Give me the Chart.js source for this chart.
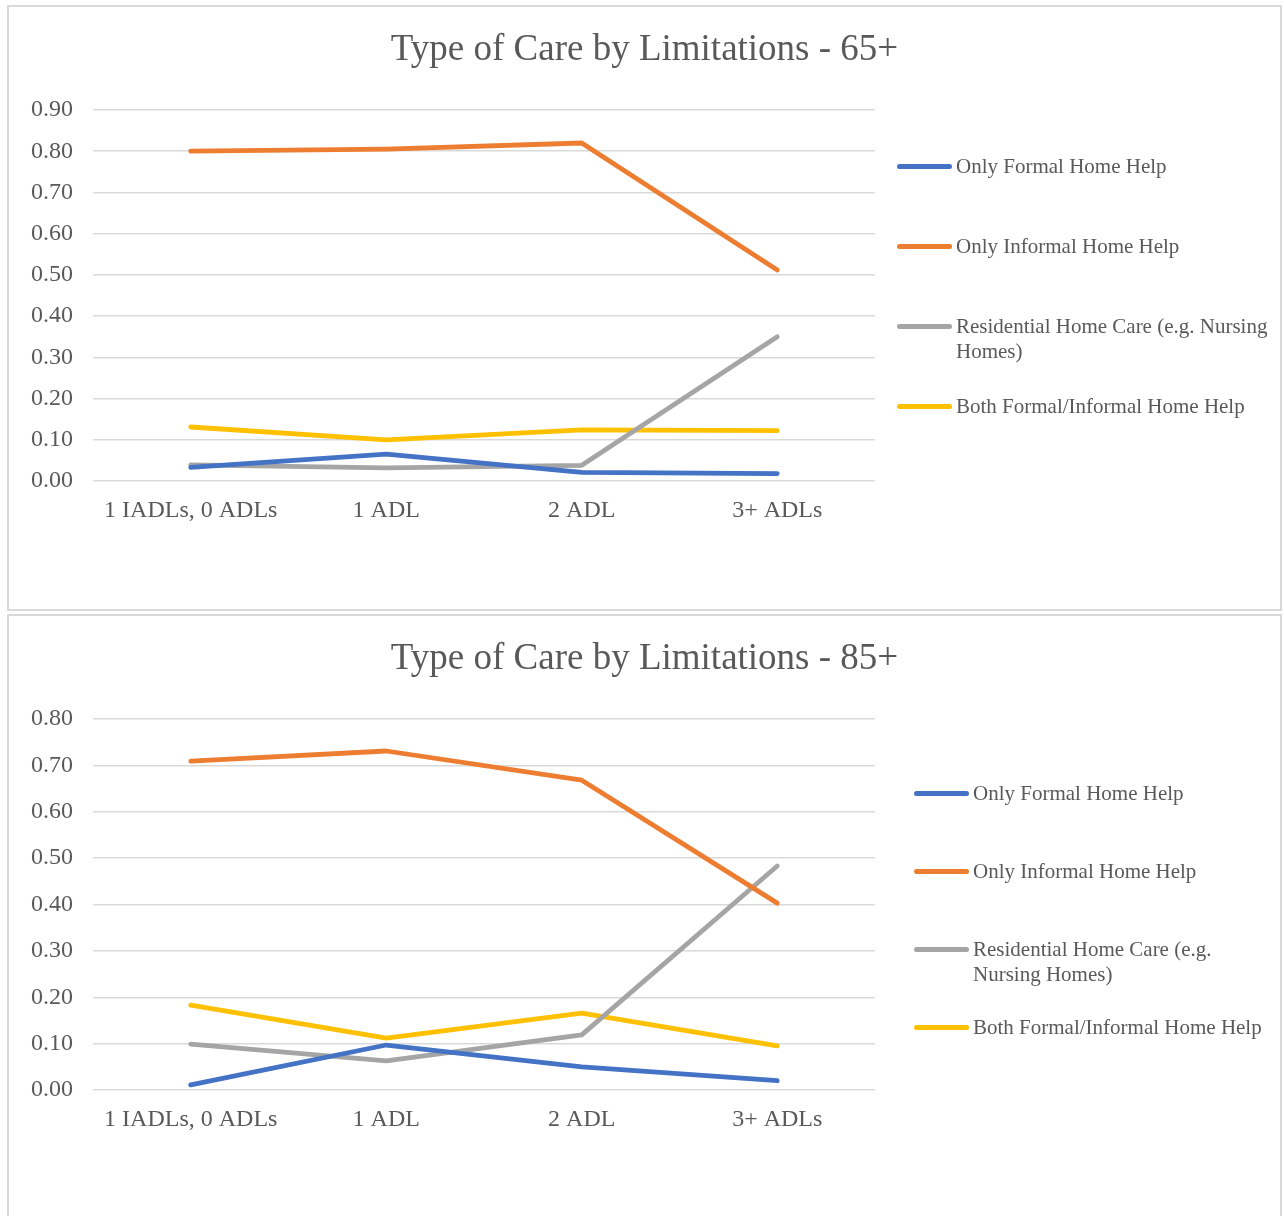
<!DOCTYPE html>
<html>
<head>
<meta charset="utf-8">
<script src="https://cdn.jsdelivr.net/npm/chart.js@4.4.0/dist/chart.umd.min.js"></script>
<style>
  body { margin: 0; background: #fff; width: 1284px; height: 1216px; overflow: hidden; position: relative; }
  .box { position: absolute; left: 7px; width: 1271px; height: 602px; border: 2px solid #d9d9d9; background: #fff; }
  .box canvas { position: absolute; left: 0; top: 0; }
  .legend { position: absolute; font-family: "Liberation Serif", "Times New Roman", serif; font-size: 21px; color: #595959; line-height: 25px; }
  .legend .item { position: absolute; display: flex; align-items: flex-start; }
  .legend .swatch { width: 55px; height: 5px; border-radius: 3px; margin-top: 10px; margin-right: 4px; flex: none; }
</style>
</head>
<body>
<div class="box" id="box65" style="top:5px"><canvas id="chart65"></canvas><div class="legend" id="legend65"></div></div>
<div class="box" id="box85" style="top:614px"><canvas id="chart85"></canvas><div class="legend" id="legend85"></div></div>

<script>
// categorias e séries
const categories = ['1 IADLs, 0 ADLs', '1 ADL', '2 ADL', '3+ ADLs'];
const seriesNames = ['Only Formal Home Help', 'Only Informal Home Help', 'Residential Home Care (e.g. Nursing Homes)', 'Both Formal/Informal Home Help'];
const seriesColors = ['#4472C4', '#ED7D31', '#A5A5A5', '#FFC000'];

// 65+
const formal65 = [0.033, 0.065, 0.021, 0.018];
const informal65 = [0.800, 0.805, 0.820, 0.512];
const residential65 = [0.039, 0.032, 0.038, 0.350];
const both65 = [0.131, 0.100, 0.124, 0.122];

// 85+
const formal85 = [0.011, 0.097, 0.050, 0.020];
const informal85 = [0.709, 0.731, 0.668, 0.403];
const residential85 = [0.099, 0.063, 0.119, 0.483];
const both85 = [0.183, 0.112, 0.166, 0.095];

const yMax65 = 0.9;
const yMax85 = 0.8;

const FONT = '"Liberation Serif", "Times New Roman", serif';
const TEXT = '#595959';

/*
* Título centralizado na caixa inteira (não só na área do gráfico).
*/
const boxTitle = {
  id: 'boxTitle',
  afterDraw(chart, args, opts) {
    const c = chart.ctx;
    c.save();
    c.fillStyle = TEXT;
    c.font = '37px ' + FONT;
    c.textAlign = 'center';
    c.textBaseline = 'middle';
    c.fillText(opts.text, chart.width / 2, 43);
    c.restore();
  }
};

function makeChart(canvasId, title, values, yMax) {
  const ctx = document.getElementById(canvasId);
  const datasets = values.map((v, i) => ({
    label: seriesNames[i],
    data: v,
    borderColor: seriesColors[i],
    backgroundColor: seriesColors[i],
    borderWidth: 4.8,
    borderCapStyle: 'round',
    borderJoinStyle: 'round',
    pointRadius: 0,
    tension: 0
  }));

  return new Chart(ctx, {
    type: 'line',
    data: { labels: categories, datasets: datasets },
    plugins: [boxTitle],
    options: {
      responsive: true,
      maintainAspectRatio: false,
      animation: false,
      layout: { padding: { left: 0, right: 405, top: 103, bottom: 68 } },
      plugins: {
        legend: { display: false },
        tooltip: { enabled: false },
        title: { display: false },
        boxTitle: { text: title }
      },
      scales: {
        x: {
          offset: true,
          grid: { display: false, drawTicks: false },
          border: { display: false },
          ticks: { color: TEXT, font: { family: FONT, size: 24 }, padding: 15, maxRotation: 0, autoSkip: false },
          afterFit: s => { s.height = 60; }
        },
        y: {
          min: 0,
          max: yMax,
          grid: { color: '#d9d9d9', lineWidth: 1.5, drawTicks: false },
          border: { display: false },
          ticks: {
            stepSize: 0.1,
            color: TEXT,
            padding: 20,
            font: { family: FONT, size: 24 },
            callback: v => v.toFixed(2)
          },
          afterFit: s => { s.width = 84; }
        }
      }
    }
  });
}

/*
* Monta a legenda em HTML ao lado do gráfico.
*/
function buildLegend(elId, left, tops, textWidth) {
  const el = document.getElementById(elId);
  el.style.left = left + 'px';
  el.style.top = '0px';
  seriesNames.forEach((name, i) => {
    const item = document.createElement('div');
    item.className = 'item';
    item.style.top = tops[i] + 'px';
    const sw = document.createElement('span');
    sw.className = 'swatch';
    sw.style.background = seriesColors[i];
    const txt = document.createElement('span');
    txt.textContent = name;
    txt.style.width = textWidth + 'px';
    item.appendChild(sw);
    item.appendChild(txt);
    el.appendChild(item);
  });
}

makeChart('chart65', 'Type of Care by Limitations - 65+', [formal65, informal65, residential65, both65], yMax65);
makeChart('chart85', 'Type of Care by Limitations - 85+', [formal85, informal85, residential85, both85], yMax85);

buildLegend('legend65', 888, [147, 227, 307, 387], 322);
buildLegend('legend85', 905, [165, 243, 321, 399], 300);
</script>
</body>
</html>
